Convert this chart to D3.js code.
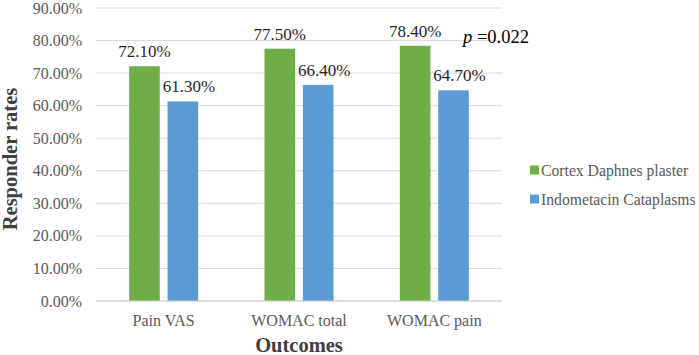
<!DOCTYPE html>
<html>
<head>
<meta charset="utf-8">
<script src="https://cdn.jsdelivr.net/npm/d3@7"></script>
<style>
  body { margin: 0; background: #fff; }
</style>
</head>
<body>
<svg id="chart" width="699" height="355" font-family="'Liberation Serif', 'DejaVu Serif', serif"></svg>
<script>
// data
const categories = ["Pain VAS", "WOMAC total", "WOMAC pain"];
const seriesNames = ["Cortex Daphnes plaster", "Indometacin Cataplasms"];
const plaster = [72.1, 77.5, 78.4];
const cataplasms = [61.3, 66.4, 64.7];
const yTicks = [0, 10, 20, 30, 40, 50, 60, 70, 80, 90];
const colors = ["#70AD47", "#5B9BD5"];

const svg = d3.select("#chart");
const margin = {left: 96, right: 197, top: 8, bottom: 54};
const W = 699, H = 355;

const x = d3.scaleBand().domain(categories).range([margin.left, W - margin.right]).paddingInner(0).paddingOuter(0);
const x1 = d3.scaleBand().domain([0, 1]).range([x.bandwidth()/2 - 34.5, x.bandwidth()/2 + 34.5]).paddingInner(7/69*2).paddingOuter(0);
const y = d3.scaleLinear().domain([0, 90]).range([H - margin.bottom, margin.top]);

// gridlines
svg.append("g").selectAll("line")
    .data(yTicks)
    .join("line")
    .attr("x1", margin.left).attr("x2", W - margin.right)
    .attr("y1", d => y(d)).attr("y2", d => y(d))
    .attr("stroke", "#d9d9d9").attr("stroke-width", 1);

// y tick labels
svg.append("g").selectAll("text")
    .data(yTicks)
    .join("text")
    .attr("x", 82).attr("y", d => y(d))
    .attr("dy", "0.35em")
    .attr("text-anchor", "end")
    .attr("font-size", 16)
    .attr("fill", "#595959")
    .text(d => d.toFixed(2) + "%");

// bars
const rows = categories.map((c, i) => ({cat: c, vals: [plaster[i], cataplasms[i]]}));
const grp = svg.append("g").selectAll("g")
    .data(rows)
    .join("g")
    .attr("transform", d => `translate(${x(d.cat)},0)`);

grp.selectAll("rect")
    .data(d => d.vals.map((v, k) => ({v, k})))
    .join("rect")
    .attr("x", d => x1(d.k))
    .attr("width", x1.bandwidth())
    .attr("y", d => y(d.v))
    .attr("height", d => y(0) - y(d.v))
    .attr("fill", d => colors[d.k]);

grp.selectAll("text")
    .data(d => d.vals.map((v, k) => ({v, k})))
    .join("text")
    .attr("x", d => x1(d.k) + x1.bandwidth()/2 + (d.k === 1 ? 6 : 0))
    .attr("y", d => y(d.v) - 9)
    .attr("text-anchor", "middle")
    .attr("font-size", 17)
    .attr("fill", "#262626")
    .text(d => d.v.toFixed(2) + "%");

// baseline
svg.append("line")
    .attr("x1", margin.left).attr("x2", W - margin.right)
    .attr("y1", y(0)).attr("y2", y(0))
    .attr("stroke", "#d0d0d0");

// x labels
svg.append("g").selectAll("text")
    .data(categories)
    .join("text")
    .attr("x", d => x(d) + x.bandwidth()/2)
    .attr("y", 326)
    .attr("text-anchor", "middle")
    .attr("font-size", 16)
    .attr("fill", "#595959")
    .text(d => d);

// axis titles
svg.append("text")
    .attr("x", 299).attr("y", 352)
    .attr("text-anchor", "middle")
    .attr("font-size", 20.5).attr("font-weight", "bold")
    .attr("fill", "#404040")
    .text("Outcomes");

svg.append("text")
    .attr("transform", "translate(17,159) rotate(-90)")
    .attr("text-anchor", "middle")
    .attr("font-size", 20.5).attr("font-weight", "bold")
    .attr("fill", "#404040")
    .text("Responder rates");

// p value
const p = svg.append("text")
    .attr("x", 463).attr("y", 43)
    .attr("font-size", 18.5)
    .attr("fill", "#000");
p.append("tspan").attr("font-style", "italic").text("p");
p.append("tspan").text(" =0.022");

// legend
const leg = svg.append("g").selectAll("g")
    .data(seriesNames)
    .join("g")
    .attr("transform", (d, i) => `translate(530,${170 + i * 29})`);
leg.append("rect")
    .attr("x", 0).attr("y", -4.5).attr("width", 9).attr("height", 9)
    .attr("fill", (d, i) => colors[i]);
leg.append("text")
    .attr("x", 11).attr("y", 0).attr("dy", "0.35em")
    .attr("font-size", 15.7)
    .attr("fill", "#595959")
    .text(d => d);
</script>
</body>
</html>
